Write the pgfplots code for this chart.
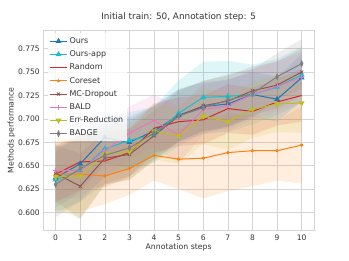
\documentclass[border=0pt]{standalone}
\usepackage{pgfplots}
\pgfplotsset{compat=1.18}
\usepackage{pgfplotstable}
\usepgfplotslibrary{fillbetween}
\usepackage{fontspec}
\setmainfont{DejaVu Sans}
\definecolor{cO}{HTML}{1F77B4}
\definecolor{cA}{HTML}{17BECF}
\definecolor{cR}{HTML}{D62728}
\definecolor{cC}{HTML}{FF7F0E}
\definecolor{cM}{HTML}{8C564B}
\definecolor{cB}{HTML}{E377C2}
\definecolor{cE}{HTML}{BCBD22}
\definecolor{cG}{HTML}{7F7F7F}
\definecolor{txt}{HTML}{333333}
\definecolor{gridc}{HTML}{D5D5D5}
\pgfplotstableread{
x o     os    a     as    r     rs    c     cs    m     ms    b     bs    e     es    g     gs
0 0.637 0.032 0.635 0.035 0.641 0.030 0.641 0.040 0.642 0.030 0.645 0.030 0.638 0.035 0.630 0.035
1 0.652 0.030 0.645 0.033 0.654 0.030 0.641 0.040 0.628 0.035 0.645 0.030 0.639 0.045 0.647 0.035
2 0.680 0.028 0.668 0.030 0.655 0.028 0.639 0.030 0.658 0.028 0.666 0.028 0.663 0.033 0.661 0.030
3 0.675 0.027 0.677 0.030 0.664 0.026 0.647 0.028 0.662 0.027 0.685 0.028 0.665 0.030 0.669 0.030
4 0.687 0.027 0.683 0.030 0.690 0.026 0.661 0.027 0.682 0.027 0.698 0.028 0.687 0.030 0.685 0.028
5 0.704 0.028 0.706 0.035 0.697 0.026 0.657 0.032 0.703 0.027 0.683 0.030 0.682 0.030 0.703 0.028
6 0.713 0.026 0.723 0.038 0.699 0.026 0.658 0.043 0.714 0.027 0.710 0.027 0.703 0.030 0.712 0.028
7 0.716 0.026 0.724 0.038 0.711 0.026 0.664 0.041 0.719 0.027 0.714 0.027 0.697 0.030 0.720 0.028
8 0.726 0.024 0.726 0.032 0.708 0.025 0.666 0.038 0.730 0.026 0.726 0.027 0.710 0.030 0.727 0.026
9 0.721 0.024 0.734 0.030 0.718 0.025 0.666 0.032 0.736 0.025 0.735 0.027 0.716 0.030 0.745 0.025
10 0.744 0.025 0.747 0.030 0.725 0.028 0.672 0.041 0.750 0.025 0.744 0.027 0.717 0.032 0.759 0.026
}\data
\newcommand{\band}[3]{%
  \addplot[draw=none, forget plot, name path=U#2] table[x=x, y expr=\thisrow{#2}+\thisrow{#3}] {\data};
  \addplot[draw=none, forget plot, name path=L#2] table[x=x, y expr=\thisrow{#2}-\thisrow{#3}] {\data};
  \addplot[fill=#1, fill opacity=0.14, draw=none, forget plot] fill between[of=U#2 and L#2];
}
\begin{document}
\begin{tikzpicture}
\begin{axis}[
  at={(0,0)}, anchor=south west,
  scale only axis, width=270.7bp, height=200bp,
  xmin=-0.5, xmax=10.5, ymin=0.581, ymax=0.7946,
  xtick={0,...,10},
  ytick={0.600,0.625,0.650,0.675,0.700,0.725,0.750,0.775},
  yticklabel style={/pgf/number format/.cd, fixed, fixed zerofill, precision=3},
  /pgf/number format/assume math mode=true,
  major tick length=0pt,
  tick label style={font=\fontsize{7.6}{8}\selectfont, text=txt},
  xticklabel style={yshift=-1pt},
  grid=major, grid style={gridc, line width=0.6pt},
  axis line style={gridc, line width=1pt},
  title={Initial train: 50, Annotation step: 5},
  title style={font=\fontsize{8.9}{10}\selectfont, text=txt, at={(axis description cs:0.5,1.0)}, anchor=south, inner sep=1.5pt, yshift=1pt},
  xlabel={Annotation steps},
  ylabel={Methods performance},
  label style={font=\fontsize{7.8}{8}\selectfont, text=txt},
  xlabel style={at={(axis description cs:0.5,-0.087)}, anchor=center},
  ylabel style={at={(axis description cs:-0.118,0.5)}, anchor=center},
  legend style={at={(axis description cs:0.015,0.985)}, anchor=north west, draw=none, fill=white, fill opacity=0.8, text opacity=1,
    font=\fontsize{8}{8.5}\selectfont, text=txt, inner sep=2pt, row sep=1.8pt},
  legend cell align=left,
  every axis plot/.append style={line width=1pt},
]
\band{cO}{o}{os}
\band{cA}{a}{as}
\band{cR}{r}{rs}
\band{cC}{c}{cs}
\band{cM}{m}{ms}
\band{cB}{b}{bs}
\band{cE}{e}{es}
\band{cG}{g}{gs}
\addplot[cO, mark=triangle*, mark size=2.4pt] table[x=x,y=o] {\data};
\addlegendentry{Ours}
\addplot[cA, mark=triangle*, mark size=2.4pt] table[x=x,y=a] {\data};
\addlegendentry{Ours-app}
\addplot[cR, no marks] table[x=x,y=r] {\data};
\addlegendentry{Random}
\addplot[cC, mark=*, mark size=1.1pt] table[x=x,y=c] {\data};
\addlegendentry{Coreset}
\addplot[cM, mark=x, mark size=2.2pt, mark options={line width=0.8pt}] table[x=x,y=m] {\data};
\addlegendentry{MC-Dropout}
\addplot[cB, mark=+, mark size=2.4pt, mark options={line width=0.8pt}] table[x=x,y=b] {\data};
\addlegendentry{BALD}
\addplot[cE, mark=triangle*, mark size=2.4pt, mark options={rotate=180}] table[x=x,y=e] {\data};
\addlegendentry{Err-Reduction}
\addplot[cG, mark=diamond*, mark size=2.6pt, mark options={xscale=0.6}] table[x=x,y=g] {\data};
\addlegendentry{BADGE}
\end{axis}
\pgfresetboundingbox
\path[use as bounding box] (-43.3bp,-30.3bp) rectangle (305.7bp,230.3bp);
\end{tikzpicture}
\end{document}
